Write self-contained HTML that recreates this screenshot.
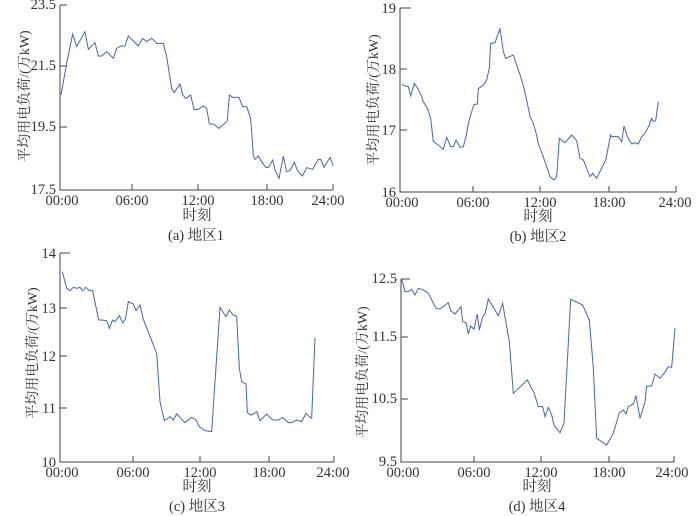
<!DOCTYPE html>
<html><head><meta charset="utf-8"><style>
body{margin:0;background:#fff;}
svg{display:block;font-family:"Liberation Serif","Noto Serif CJK SC",serif;}
text{fill:#333;font-size:14.5px;}
.yl{font-size:14px;}
.ax{stroke:#444;stroke-width:1;fill:none;}
.ln{stroke:#4a64a6;stroke-width:1;fill:none;}
</style></head><body>
<svg width="700" height="516" viewBox="0 0 700 516">
<!-- Panel 1 -->
<path class="ax" d="M60,5V190H333M60,5H67M60,66H67M60,127H67M132,190V184M198,190V184M267,190V184M333,190V184"/>
<g transform="scale(0.3333333)"><polyline class="ln" vector-effect="non-scaling-stroke" points="183,285 200,190 218,102 230,140 255,95 265,148 285,128 295,168 305,168 320,155 340,175 350,145 362,138 375,138 385,108 415,138 428,115 440,125 455,115 470,130 490,130 500,170 515,265 522,278 540,252 548,285 558,295 572,285 582,328 595,328 610,318 620,325 628,372 640,372 657,385 672,372 682,362 688,285 698,292 717,292 728,320 740,320 752,355 760,468 765,478 775,468 785,485 797,502 806,502 818,480 825,510 837,535 850,468 860,515 870,512 883,487 893,513 907,528 920,503 938,508 955,478 962,478 972,502 990,472 1000,498"/></g>
<g text-anchor="end"><text x="56" y="9">23.5</text><text x="56" y="70">21.5</text><text x="56" y="131">19.5</text><text x="56" y="194">17.5</text></g>
<g text-anchor="middle"><text x="62" y="205">00:00</text><text x="132" y="205">06:00</text><text x="198" y="205">12:00</text><text x="267" y="205">18:00</text><text x="328" y="205">24:00</text>
<text x="197" y="220">时刻</text><text x="196" y="240">(a) 地区1</text>
<text class="yl" transform="translate(29,96) rotate(-90)">平均用电负荷/(万kW)</text></g>

<!-- Panel 2 -->
<path class="ax" d="M400,8V192H676M400,8H411M400,69H407M400,130H407M473,192V186M540,192V186M609,192V186M676,192V186"/>
<g transform="translate(350,0) scale(0.3333333)"><polyline class="ln" vector-effect="non-scaling-stroke" points="155,252 165,258 175,260 182,288 193,250 205,268 215,290 220,305 232,325 242,355 250,425 265,435 280,448 290,412 302,440 310,440 318,420 330,442 340,440 348,410 355,370 365,335 372,314 382,312 385,266 400,255 410,240 418,205 422,130 435,128 450,85 460,155 467,175 490,165 500,195 512,230 522,265 530,300 540,350 548,365 560,405 565,432 578,465 590,500 600,530 612,540 620,530 628,415 645,428 665,405 680,422 690,475 700,480 712,510 720,530 728,520 740,535 752,510 768,478 775,440 782,405 785,410 805,410 815,425 822,378 832,410 845,432 855,428 865,432 875,410 885,400 898,375 905,355 910,365 917,362 925,305"/></g>
<g text-anchor="end"><text x="396" y="13">19</text><text x="396" y="74">18</text><text x="396" y="135">17</text><text x="396" y="197">16</text></g>
<g text-anchor="middle"><text x="402" y="207">00:00</text><text x="473" y="207">06:00</text><text x="540" y="207">12:00</text><text x="609" y="207">18:00</text><text x="675" y="207">24:00</text>
<text x="538" y="221">时刻</text><text x="538" y="241">(b) 地区2</text>
<text class="yl" transform="translate(378,100) rotate(-90)">平均用电负荷/(万kW)</text></g>

<!-- Panel 3 -->
<path class="ax" d="M60,253V462H334M60,253H70M60,308H67M60,356H67M60,408H67M133,462V456M200,462V456M269,462V456M334,462V456"/>
<g transform="translate(0,250) scale(0.3333333)"><polyline class="ln" vector-effect="non-scaling-stroke" points="187,65 200,115 210,122 220,112 230,115 240,112 248,122 258,112 268,122 278,122 296,210 305,210 320,212 328,235 338,210 345,215 358,197 368,218 376,208 385,155 400,162 408,182 420,165 430,208 470,310 480,455 493,512 500,508 510,500 520,510 530,492 540,502 555,518 575,502 588,510 598,530 615,542 635,545 660,172 668,185 678,200 688,180 700,196 710,198 718,355 725,395 738,402 742,488 752,495 760,492 770,485 780,512 800,492 818,510 835,510 848,502 865,518 875,518 890,510 905,515 918,490 928,500 935,505 945,262"/></g>
<g text-anchor="end"><text x="56" y="258">14</text><text x="56" y="313">13</text><text x="56" y="361">12</text><text x="56" y="413">11</text><text x="56" y="467">10</text></g>
<g text-anchor="middle"><text x="62" y="477">00:00</text><text x="133" y="477">06:00</text><text x="200" y="477">12:00</text><text x="269" y="477">18:00</text><text x="333" y="477">24:00</text>
<text x="197" y="491">时刻</text><text x="197" y="511">(c) 地区3</text>
<text class="yl" transform="translate(37,353) rotate(-90)">平均用电负荷/(万kW)</text></g>

<!-- Panel 4 -->
<path class="ax" d="M401,279V462H674M401,279H410M401,337H408M401,399H408M474,462V456M541,462V456M609,462V456M674,462V456"/>
<g transform="translate(350,250) scale(0.3333333)"><polyline class="ln" vector-effect="non-scaling-stroke" points="155,87 165,125 175,125 185,118 195,135 205,115 220,120 235,130 258,175 270,177 295,158 302,182 315,192 333,170 338,215 348,218 355,252 362,228 372,238 382,192 388,240 398,200 405,192 415,147 445,197 458,160 470,230 478,275 490,430 532,390 552,428 565,470 578,470 585,500 595,472 605,495 612,525 630,548 642,520 662,148 698,165 718,210 730,355 740,565 770,585 790,550 808,488 820,480 828,492 835,470 850,462 858,437 870,505 885,455 890,408 905,408 915,372 930,385 942,370 955,350 965,352 975,235"/></g>
<g text-anchor="end"><text x="397" y="283">12.5</text><text x="397" y="341">11.5</text><text x="397" y="403">10.5</text><text x="397" y="466">9.5</text></g>
<g text-anchor="middle"><text x="403" y="477">00:00</text><text x="474" y="477">06:00</text><text x="541" y="477">12:00</text><text x="609" y="477">18:00</text><text x="672" y="477">24:00</text>
<text x="537" y="491">时刻</text><text x="537" y="511">(d) 地区4</text>
<text class="yl" transform="translate(367,372) rotate(-90)">平均用电负荷/(万kW)</text></g>
</svg>
</body></html>
